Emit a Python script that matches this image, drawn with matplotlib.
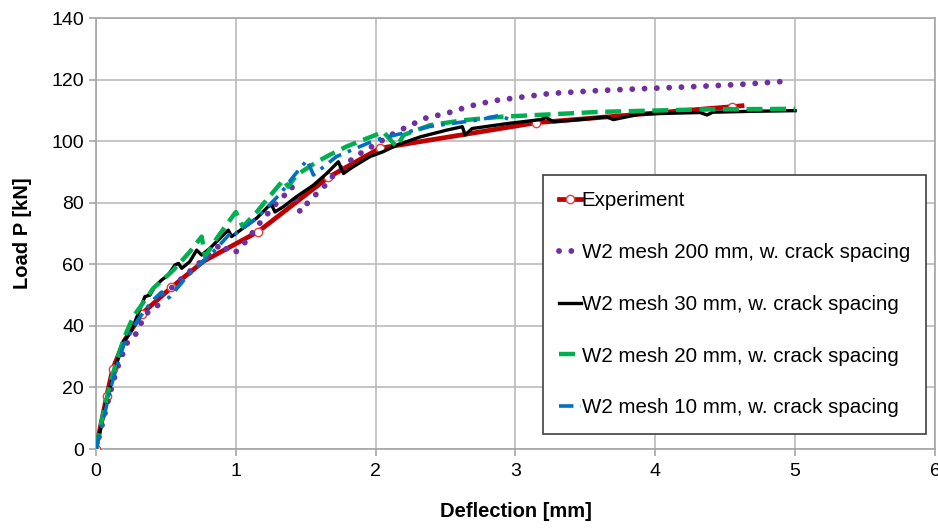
import numpy as np
import matplotlib.pyplot as plt

plt.rcParams['font.family'] = ['Liberation Sans', 'DejaVu Sans']

# Experiment
exp_x = [0, 0.077, 0.12, 0.2, 0.33, 0.54, 0.77, 1.16, 1.66, 2.03, 3.15, 4.55, 4.62]
exp_y = [0, 17.3, 26, 35, 44, 52.5, 61, 70.6, 88.2, 97.7, 106, 111.2, 111.5]
exp_marks = [0, 1, 2, 4, 5, 7, 8, 9, 10, 11]

# W2 mesh 200 mm
m200_x = [0, 0.05, 0.1, 0.15, 0.22, 0.29, 0.327, 0.374, 0.446, 0.47, 0.553, 0.6, 0.68, 0.9,
          0.96, 1.0, 1.07, 1.17, 1.29, 1.34, 1.4, 1.46, 1.52, 1.58, 1.64, 1.7, 1.83, 1.91,
          1.98, 2.13, 2.2, 2.35, 2.52, 2.675, 2.84, 3.01, 3.25, 3.58, 3.94, 4.27, 4.6, 4.95]
m200_y = [0, 9, 18, 26, 34.3, 37.6, 41.3, 44.6, 46.8, 50.5, 52.7, 54.9, 58.1, 66.8,
          63.6, 64, 67.3, 73.3, 79.8, 82, 85.2, 77, 80.3, 83, 85.7, 89, 94.1, 96.6,
          98.4, 102.5, 104.1, 107.4, 109.2, 111.4, 113.1, 114.1, 115.5, 116.4, 117.1, 117.7, 118.4, 119.5]

# W2 mesh 30 mm
m30_x = [0, 0.05, 0.1, 0.15, 0.2, 0.255, 0.35, 0.386, 0.42, 0.47, 0.517, 0.565, 0.59, 0.613,
         0.67, 0.72, 0.756, 0.815, 0.91, 0.946, 0.97, 1.03, 1.15, 1.23, 1.257, 1.28, 1.34,
         1.435, 1.555, 1.65, 1.733, 1.77, 1.84, 1.96, 2.055, 2.15, 2.32, 2.51, 2.62, 2.64,
         2.69, 2.94, 3.18, 3.22, 3.27, 3.46, 3.65, 3.7, 3.89, 4.32, 4.37, 4.41, 4.7, 5.0]
m30_y = [0, 10, 20, 28, 35, 38.6, 49.5, 50, 52.7, 54.9, 56.5, 59.8, 60.3, 58.7,
         60.8, 64.6, 63, 65.2, 69.5, 71.1, 69, 71, 75, 78.7, 79.2, 77, 78.7,
         82, 85.7, 89.5, 93.3, 89.5, 91.7, 95, 96.6, 98.7, 101.4, 103.6, 104.7, 102,
         104.1, 105.7, 107, 107.7, 106.3, 107, 107.9, 107, 108.8, 109.3, 108.5, 109.4, 109.7, 109.9]

# W2 mesh 20 mm
m20_x = [0, 0.05, 0.1, 0.15, 0.2, 0.267, 0.41, 0.553, 0.67, 0.756, 0.78, 0.863, 1.0, 1.05,
         1.15, 1.22, 1.34, 1.375, 1.435, 1.58, 1.67, 1.79, 1.91, 2.055, 2.15, 2.2, 2.39,
         2.63, 2.89, 3.6, 4.32, 5.0]
m20_y = [0, 11, 21, 29, 36, 43, 52.2, 58.1, 64, 69, 62.5, 68.4, 77, 72.2,
         77, 80.9, 87.4, 85.2, 89, 93.3, 95.5, 98.2, 100.4, 103, 98.2, 102, 105.2,
         106.8, 107.9, 109.5, 110.3, 110.5]

# W2 mesh 10 mm
m10_x = [0, 0.05, 0.1, 0.15, 0.2, 0.3, 0.4, 0.47, 0.5, 0.53, 0.65, 0.83, 0.98, 1.0, 1.15,
         1.32, 1.41, 1.51, 1.555, 1.72, 2.0, 2.39, 2.75, 2.89, 2.96]
m10_y = [0, 9, 19, 27, 34, 42, 48, 51, 48.5, 49.5, 56, 63.6, 71, 70, 75,
         83, 88.4, 93.9, 89, 95, 100.4, 104.8, 107, 108.4, 106.9]

labels = ['Experiment', 'W2 mesh 200 mm, w. crack spacing', 'W2 mesh 30 mm, w. crack spacing',
          'W2 mesh 20 mm, w. crack spacing', 'W2 mesh 10 mm, w. crack spacing']

fig = plt.figure(figsize=(9.38, 5.28), dpi=100)
ax = fig.add_axes([0.1023, 0.1496, 0.8945, 0.8163])

ax.plot(exp_x, exp_y, color='#C00000', lw=3.4, marker='o', markevery=exp_marks,
        markersize=6, markerfacecolor='white', markeredgecolor='#E04040',
        markeredgewidth=1, label=labels[0], zorder=3)
ax.plot(m200_x, m200_y, color='#7030A0', lw=4.2, linestyle=(0, (0.01, 2.1)),
        dash_capstyle='round', label=labels[1], zorder=4)
ax.plot(m30_x, m30_y, color='black', lw=2.4, label=labels[2], zorder=4)
ax.plot(m20_x, m20_y, color='#00B050', lw=3.2, linestyle=(0, (3.6, 1.7)), label=labels[3], zorder=5)
ax.plot(m10_x, m10_y, color='#0070C0', lw=2.6, linestyle=(0, (4, 2, 1, 2)), label=labels[4], zorder=5)

ax.set_xlim(0, 6)
ax.set_ylim(0, 140)
ax.set_xticks(range(0, 7))
ax.set_yticks(range(0, 141, 20))
ax.grid(True, color='#BBBBBB', lw=1.2)
ax.set_axisbelow(True)
for s in ax.spines.values():
    s.set_color('#A6A6A6')
    s.set_linewidth(1.2)
ax.tick_params(labelsize=14, colors='#A6A6A6', labelcolor='black', length=5, width=1.2)
ax.tick_params(axis='x', pad=5)

ax.set_xlabel('Deflection [mm]', fontsize=14.5, fontweight='bold', labelpad=16)
ax.set_ylabel('Load P [kN]', fontsize=14.5, fontweight='bold', labelpad=14)

leg = ax.legend(loc='upper left', bbox_to_anchor=(0.533, 0.636), borderaxespad=0,
                fontsize=14.8, handlelength=1.05, handletextpad=0.05, labelspacing=1.6,
                borderpad=0.78, fancybox=False, framealpha=1, edgecolor='#404040')
leg.get_frame().set_linewidth(1.2)

plt.savefig('out.png', dpi=100)
